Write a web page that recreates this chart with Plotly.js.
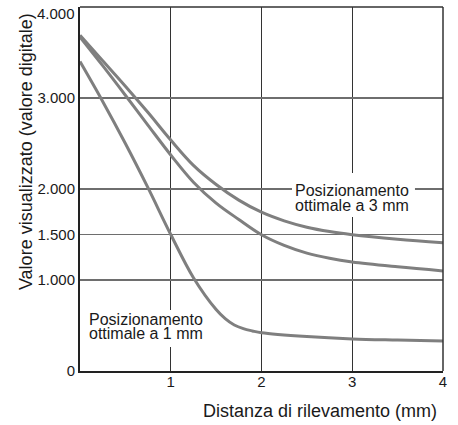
<!DOCTYPE html>
<html>
<head>
<meta charset="utf-8">
<script src="https://cdn.plot.ly/plotly-3.0.1.min.js"></script>
<style>html,body{margin:0;padding:0;background:#fff;}#chart{width:458px;height:425px;}</style>
</head>
<body>
<div id="chart"></div>
<script>
// distance (mm)
var xAB = [0, 0.25, 0.5, 0.75, 1, 1.25, 1.5, 1.75, 2, 2.25, 2.5, 2.75, 3, 3.5, 4];
var curveA = [3690, 3410, 3130, 2840, 2538, 2260, 2050, 1878, 1745, 1650, 1580, 1532, 1498, 1448, 1408];
var curveB = [3670, 3355, 3030, 2700, 2374, 2075, 1845, 1665, 1497, 1380, 1295, 1238, 1198, 1145, 1100];
var xC = [0, 0.25, 0.5, 0.75, 1, 1.25, 1.5, 1.6, 1.7, 1.8, 1.9, 2, 2.5, 3, 3.5, 4];
var curveC = [3400, 2962, 2500, 2012, 1500, 1025, 675, 575, 505, 465, 440, 420, 378, 352, 340, 330];

var xTickVals = [1, 2, 3, 4];
var xTickText = ['1', '2', '3', '4'];
var yTickVals = [0, 1000, 1500, 2000, 3000, 4000];
var yTickText = ['0', '1.000', '1.500', '2.000', '3.000', '4.000'];

var yTitle = 'Valore visualizzato (valore digitale)';
var xTitle = 'Distanza di rilevamento (mm)';
var label3 = ['Posizionamento', 'ottimale a 3 mm'];
var label1 = ['Posizionamento', 'ottimale a 1 mm'];

var FONT = 'Liberation Sans, Arial, Helvetica, sans-serif';
var TXT = '#1a1a1a';
var lineStyle = {color: '#7f7f7f', width: 3, shape: 'spline', smoothing: 1};

var traces = [
  {x: xAB, y: curveA, mode: 'lines', line: lineStyle, hoverinfo: 'skip'},
  {x: xAB, y: curveB, mode: 'lines', line: lineStyle, hoverinfo: 'skip'},
  {x: xC, y: curveC, mode: 'lines', line: lineStyle, hoverinfo: 'skip'}
];

function lab(txt, x, y) {
  return {text: txt, xref: 'x', yref: 'y', x: x, y: y, xanchor: 'left', yanchor: 'middle',
    showarrow: false, borderpad: 0, font: {family: FONT, size: 16, color: TXT}};
}
function whiteBox(x0, x1, y0, y1) {
  return {type: 'rect', xref: 'x', yref: 'y', x0: x0, x1: x1, y0: y0, y1: y1, layer: 'between',
    fillcolor: '#ffffff', line: {width: 0}};
}

// show all y tick labels except the top one, which sits slightly lower (annotation)
var yTickTextAxis = yTickText.map(function (t, i) { return i === yTickText.length - 1 ? '' : t; });

var layout = {
  width: 458, height: 425,
  margin: {l: 80, r: 15, t: 7, b: 54},
  paper_bgcolor: '#ffffff', plot_bgcolor: '#ffffff',
  showlegend: false,
  font: {family: FONT, color: TXT},
  xaxis: {
    range: [0, 4], tickvals: xTickVals, ticktext: xTickText,
    showgrid: true, gridcolor: '#333333', gridwidth: 1.2,
    zeroline: false, showline: true, linecolor: '#222222', linewidth: 2,
    ticks: '', ticklabelstandoff: -4, tickfont: {family: FONT, size: 15, color: TXT}, fixedrange: true
  },
  yaxis: {
    range: [0, 4000], tickvals: yTickVals, ticktext: yTickTextAxis,
    showgrid: true, gridcolor: '#6e6e6e', gridwidth: 1.5,
    zeroline: false, showline: true, linecolor: '#222222', linewidth: 2,
    ticks: '', tickfont: {family: FONT, size: 15, color: TXT}, fixedrange: true
  },
  shapes: [
    {type: 'line', xref: 'paper', yref: 'paper', x0: 0, x1: 1, y0: 1, y1: 1, line: {color: '#333333', width: 1.5}},
    {type: 'line', xref: 'paper', yref: 'paper', x0: 1, x1: 1, y0: 0, y1: 1, line: {color: '#333333', width: 1.5}},
    whiteBox(2.336, 3.691, 1692, 2176),
    whiteBox(0.055, 1.388, 264, 670)
  ],
  annotations: [
    {text: yTickText[yTickText.length - 1], xref: 'paper', yref: 'y', x: 0, y: yTickVals[yTickVals.length - 1],
      xanchor: 'right', yanchor: 'middle', xshift: -3, yshift: -6, showarrow: false,
      font: {family: FONT, size: 15, color: TXT}},
    {text: yTitle, xref: 'paper', yref: 'paper', x: -0.149, y: 0.604, textangle: -90,
      showarrow: false, xanchor: 'center', yanchor: 'middle', font: {family: FONT, size: 18, color: TXT}},
    {text: xTitle, xref: 'paper', yref: 'paper', x: 0.661, y: -0.11,
      showarrow: false, xanchor: 'center', yanchor: 'middle', font: {family: FONT, size: 18, color: TXT}},
    lab(label3[0], 2.358, 1989),
    lab(label3[1], 2.358, 1824),
    lab(label1[0], 0.088, 571),
    lab(label1[1], 0.088, 407)
  ]
};

Plotly.newPlot('chart', traces, layout, {displayModeBar: false, staticPlot: true});
</script>
</body>
</html>
